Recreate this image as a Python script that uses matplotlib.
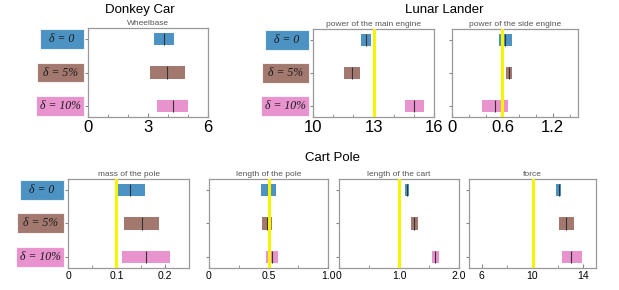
import matplotlib
matplotlib.use("Agg")
import matplotlib.pyplot as plt
from matplotlib.patches import Rectangle
from matplotlib.ticker import MultipleLocator
from matplotlib.transforms import blended_transform_factory

plt.rcParams['font.family'] = ['Liberation Sans', 'DejaVu Sans']

# ---- data ----
delta_labels = ["δ = 0", "δ = 5%", "δ = 10%"]
delta_colors = ["tab:blue", "tab:brown", "tab:pink"]

# Donkey Car
wheelbase_lo = [3.31, 3.08, 3.47]
wheelbase_hi = [4.28, 4.84, 4.98]
wheelbase_med = [3.82, 3.95, 4.24]

# Lunar Lander
main_engine_lo = [12.36, 11.55, 14.55]
main_engine_hi = [12.87, 12.32, 15.49]
main_engine_med = [12.61, 11.93, 15.02]
main_engine_default = 13

side_engine_lo = [0.56, 0.645, 0.36]
side_engine_hi = [0.71, 0.72, 0.665]
side_engine_med = [0.63, 0.68, 0.51]
side_engine_default = 0.6

# Cart Pole
pole_mass_lo = [0.099, 0.115, 0.112]
pole_mass_hi = [0.159, 0.187, 0.211]
pole_mass_med = [0.128, 0.152, 0.162]
pole_mass_default = 0.1

pole_length_lo = [0.434, 0.445, 0.479]
pole_length_hi = [0.56, 0.532, 0.58]
pole_length_med = [0.496, 0.487, 0.529]
pole_length_default = 0.5

cart_length_lo = [1.097, 1.202, 1.546]
cart_length_hi = [1.169, 1.313, 1.673]
cart_length_med = [1.136, 1.258, 1.607]
cart_length_default = 1.0

force_lo = [11.86, 12.05, 12.31]
force_hi = [12.23, 13.24, 13.89]
force_med = [12.05, 12.63, 13.05]
force_default = 10

W, H = 619, 290
fig = plt.figure(figsize=(W / 100, H / 100), dpi=100)


def add_ax(x0, x1, y0, y1):
    return fig.add_axes([x0 / W, 1 - y1 / H, (x1 - x0) / W, (y1 - y0) / H])


def draw_panel(ax, lo, hi, med, default, xlim, ticks, ticklabels, minor,
               subtitle, labelsize):
    rows = range(len(lo))
    for i in rows:
        ax.barh(i, hi[i] - lo[i], left=lo[i], height=0.36,
                color=delta_colors[i], alpha=0.8, linewidth=0)
        ax.vlines(med[i], i - 0.18, i + 0.18, color="#333333", lw=0.8)
    if default is not None:
        ax.axvline(default, color="#f5f500", lw=2.2, zorder=3)
    ax.set_xlim(*xlim)
    ax.set_ylim(2.33, -0.33)
    ax.set_xticks(ticks)
    ax.set_xticklabels(ticklabels)
    ax.xaxis.set_minor_locator(MultipleLocator(minor))
    ax.set_yticks([0, 1, 2])
    ax.set_yticklabels([])
    ax.tick_params(axis="x", which="major", direction="in", length=3,
                   color="#888888", labelsize=labelsize, pad=2)
    ax.tick_params(axis="x", which="minor", direction="in", length=2,
                   color="#888888")
    ax.tick_params(axis="y", direction="out", length=2, color="#888888")
    for sp in ax.spines.values():
        sp.set_color("#999999")
        sp.set_linewidth(0.9)
    ax.set_title(subtitle, fontsize=6, color="#555555", pad=2)


def add_delta_labels(ax):
    bb = ax.get_position()
    ax_w = bb.width * W
    ax_h = bb.height * H
    upp = 2.66 / ax_h
    trans = blended_transform_factory(ax.transAxes, ax.transData)
    box_w = [44, 47, 48]
    gap = 4
    for i, lab in enumerate(delta_labels):
        h = 20 * upp
        rect = Rectangle((-(gap + box_w[i]) / ax_w, i - h / 2),
                         box_w[i] / ax_w, h, transform=trans,
                         facecolor=delta_colors[i], alpha=0.8,
                         edgecolor="white", linewidth=0.8, clip_on=False)
        ax.add_patch(rect)
        ax.text(-(gap + box_w[i] / 2) / ax_w, i, lab, transform=trans,
                ha="center", va="center", fontsize=8.5, style="italic",
                family=["Liberation Serif", "DejaVu Serif"], color="#1a1a1a")


# Donkey Car
ax = add_ax(88, 208, 28, 117)
draw_panel(ax, wheelbase_lo, wheelbase_hi, wheelbase_med, None, (0, 6),
           [0, 3, 6], ["0", "3", "6"], 1, "Wheelbase", 12)
add_delta_labels(ax)
fig.text(140 / W, 1 - 10 / H, "Donkey Car", ha="center", va="center",
         fontsize=9.5)

# Lunar Lander
ax = add_ax(313, 434, 29, 117)
draw_panel(ax, main_engine_lo, main_engine_hi, main_engine_med,
           main_engine_default, (10, 16), [10, 13, 16], ["10", "13", "16"],
           1, "power of the main engine", 12)
add_delta_labels(ax)
ax = add_ax(452, 578, 29, 117)
draw_panel(ax, side_engine_lo, side_engine_hi, side_engine_med,
           side_engine_default, (0, 1.5), [0, 0.6, 1.2], ["0", "0.6", "1.2"],
           0.2, "power of the side engine", 12)
fig.text(444 / W, 1 - 10 / H, "Lunar Lander", ha="center", va="center",
         fontsize=9.5)

# Cart Pole
ax = add_ax(68, 189, 179, 268)
draw_panel(ax, pole_mass_lo, pole_mass_hi, pole_mass_med, pole_mass_default,
           (0, 0.25), [0, 0.1, 0.2], ["0", "0.1", "0.2"], 0.05,
           "mass of the pole", 7.5)
add_delta_labels(ax)
ax = add_ax(209, 328, 179, 268)
draw_panel(ax, pole_length_lo, pole_length_hi, pole_length_med,
           pole_length_default, (0, 1.0), [0, 0.5, 1.0], ["0", "0.5", "1.0"],
           0.25, "length of the pole", 7.5)
ax = add_ax(339, 459, 179, 268)
draw_panel(ax, cart_length_lo, cart_length_hi, cart_length_med,
           cart_length_default, (0, 2.0), [0, 1.0, 2.0], ["0", "1.0", "2.0"],
           0.5, "length of the cart", 7.5)
ax = add_ax(469, 596, 179, 268)
draw_panel(ax, force_lo, force_hi, force_med, force_default, (5, 15),
           [6, 10, 14], ["6", "10", "14"], 2, "force", 7.5)
fig.text(333 / W, 1 - 158 / H, "Cart Pole", ha="center", va="center",
         fontsize=9.5)

fig.savefig("out.png", dpi=100)
